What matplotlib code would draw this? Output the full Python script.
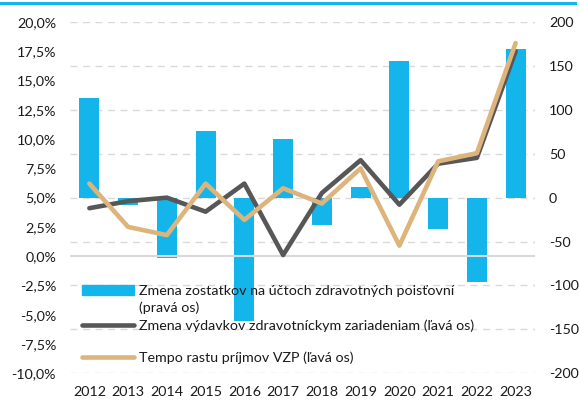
import matplotlib.pyplot as plt
from matplotlib.lines import Line2D
from matplotlib.patches import Patch

plt.rcParams['font.family'] = ['Lato', 'DejaVu Sans']

years = ['2012', '2013', '2014', '2015', '2016', '2017',
         '2018', '2019', '2020', '2021', '2022', '2023']
# right axis, bars
balance_change = [113, -8, -69, 76, -140, 67, -31, 12, 156, -36, -96, 169]
# left axis, %
spending_growth = [4.1, 4.7, 5.0, 3.8, 6.2, 0.1, 5.4, 8.2, 4.4, 7.9, 8.4, 17.5]
revenue_growth = [6.2, 2.5, 1.8, 6.2, 3.1, 5.8, 4.5, 7.5, 0.9, 8.1, 8.8, 18.2]

left_ticks = [-10, -7.5, -5, -2.5, 0, 2.5, 5, 7.5, 10, 12.5, 15, 17.5, 20]
right_ticks = [-200, -150, -100, -50, 0, 50, 100, 150, 200]

blue = '#13B5EA'
gray = '#575757'
tan = '#DDB57C'
txt = '#1a1a1a'
fs = 10.3

fig = plt.figure(figsize=(5.79, 4.0), dpi=100)
ax = fig.add_axes([70 / 579, 1 - 373.3 / 400, 465 / 579, 351.3 / 400])
ax2 = ax.twinx()

# bars on the right-hand scale
ax.bar(years, balance_change, width=0.52, color=blue, zorder=2)
ax.set_ylim(-200, 200)
ax.set_yticks(right_ticks)
ax.set_yticklabels([str(v) for v in right_ticks])
ax.yaxis.tick_right()
ax.yaxis.grid(True, color='#D9D9D9', linestyle=(0, (5, 4)), linewidth=1.0, zorder=0)
ax.set_axisbelow(True)
ax.set_xlim(-0.5, 11.5)

# lines on the left-hand scale
ax2.axhline(0, color='#D9D9D9', linewidth=1.5, zorder=1)
ax2.plot(years, spending_growth, color=gray, lw=3.3, solid_capstyle='round',
         solid_joinstyle='round', zorder=3)
ax2.plot(years, revenue_growth, color=tan, lw=3.3, solid_capstyle='round',
         solid_joinstyle='round', zorder=4)
ax2.set_ylim(-10, 20)
ax2.set_yticks(left_ticks)
ax2.set_yticklabels([f'{v:.1f}%'.replace('.', ',') for v in left_ticks])
ax2.yaxis.tick_left()

for a in (ax, ax2):
    for s in a.spines.values():
        s.set_visible(False)
    a.tick_params(length=0, labelsize=fs, labelcolor=txt)
ax.tick_params(axis='y', pad=10)
ax2.tick_params(axis='y', pad=10)
ax.tick_params(axis='x', pad=9)

leg_kw = dict(loc='upper left', bbox_transform=fig.transFigure, frameon=False,
              fontsize=fs, handlelength=3.6, handletextpad=0.38,
              labelspacing=0.34, borderpad=0, borderaxespad=0)

handles = [
    Patch(color=blue),
    Patch(color='none'),
    Line2D([], [], color=gray, lw=3.3, solid_capstyle='round'),
]
labels = [
    'Zmena zostatkov na účtoch zdravotných poisťovní',
    '(pravá os)',
    'Zmena výdavkov zdravotníckym zariadeniam (ľavá os)',
]
leg = ax2.legend(handles, labels, bbox_to_anchor=(82 / 579, 1 - 285 / 400), **leg_kw)
for t in leg.get_texts():
    t.set_color(txt)
ax2.add_artist(leg)

leg2 = ax2.legend([Line2D([], [], color=tan, lw=3.3, solid_capstyle='round')],
                  ['Tempo rastu príjmov VZP (ľavá os)'],
                  bbox_to_anchor=(82 / 579, 1 - 351 / 400), **leg_kw)
for t in leg2.get_texts():
    t.set_color(txt)

fig.add_artist(Line2D([0, 0.993], [0.992, 0.992], color=blue, lw=2.2,
                      transform=fig.transFigure))

fig.savefig('out.png', dpi=100)
